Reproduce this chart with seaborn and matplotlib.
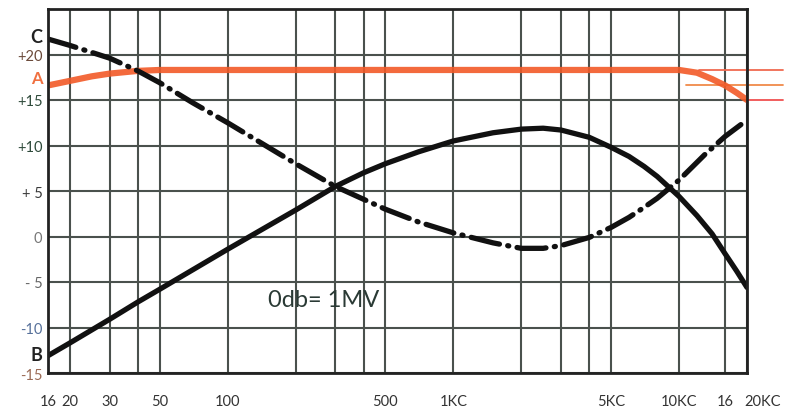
import numpy as np
import pandas as pd
import matplotlib
matplotlib.use("Agg")
import matplotlib.pyplot as plt
import matplotlib.transforms as mtransforms
import seaborn as sns

# ---- data (frequency in Hz, level in dB) ----
freq_a = [16, 20, 25, 30, 40, 50, 100, 500, 1000, 5000, 10000, 12000, 14000, 16000, 18000, 20000]
level_a = [16.6, 17.1, 17.6, 17.9, 18.2, 18.3, 18.3, 18.3, 18.3, 18.3, 18.3, 18.0, 17.3, 16.6, 15.8, 15.0]

freq_b = [16, 20, 30, 40, 50, 100, 200, 300, 400, 500, 700, 1000, 1500, 2000, 2500, 3000, 4000, 5000, 6000, 7000, 8000, 10000, 12000, 14000, 16000, 18000, 20000]
level_b = [-13.1, -11.7, -9.1, -7.2, -5.8, -1.4, 2.9, 5.5, 7.0, 8.0, 9.3, 10.5, 11.4, 11.8, 11.9, 11.7, 10.9, 9.8, 8.8, 7.7, 6.6, 4.4, 2.3, 0.3, -1.9, -3.8, -5.6]

freq_c = [16, 20, 30, 40, 50, 70, 100, 200, 300, 500, 700, 1000, 1500, 2000, 2500, 3000, 4000, 5000, 6000, 7000, 8000, 10000, 13000, 16000, 20000]
level_c = [21.7, 21.0, 19.6, 18.2, 16.9, 14.7, 12.5, 8.0, 5.5, 3.0, 1.6, 0.4, -0.7, -1.3, -1.3, -1.0, -0.1, 1.0, 2.1, 3.2, 4.2, 6.2, 9.0, 11.0, 12.8]

ref_levels = [18.3, 16.6, 15.0]
ref_start = [12200, 10700, 20000]
ref_end = 29000

x_ticks = [16, 20, 30, 50, 100, 500, 1000, 5000, 10000, 16000, 20000]
x_labels = ["16", "20", "30", "50", "100", "500", "1KC", "5KC", "10KC", "16", "20KC"]
x_grid = [16, 20, 30, 40, 50, 100, 200, 300, 400, 500, 1000, 2000, 3000, 4000, 5000, 10000, 16000, 20000]
y_ticks = [-15, -10, -5, 0, 5, 10, 15, 20]
y_labels = ["-15", "-10", "- 5", "0", "+ 5", "+10", "+15", "+20"]
y_label_colors = ["#9a6a55", "#56709a", "#666666", "#777777", "#3a3a3a", "#2e4a3a", "#2e4a3a", "#6b4a3a"]

sns.set_style("white")
plt.rcParams['font.family'] = ['Lato', 'DejaVu Sans']

fig = plt.figure(figsize=(7.86, 4.10), dpi=100)
ax = fig.add_axes([48/786, 1 - 374/410, (747-48)/786, (374-10)/410])
ax.set_xscale("log")
ax.set_xlim(16, 20000)
ax.set_ylim(-15, 25)

# grid
for g in x_grid:
    ax.axvline(g, color="#4a514d", lw=1.5, zorder=1)
for g in range(-15, 26, 5):
    ax.axhline(g, color="#4a514d", lw=1.5, zorder=1)

df_a = pd.DataFrame({"f": freq_a, "db": level_a})
df_b = pd.DataFrame({"f": freq_b, "db": level_b})
df_c = pd.DataFrame({"f": freq_c, "db": level_c})

sns.lineplot(data=df_a, x="f", y="db", ax=ax, color="#f25a28", lw=4.5, alpha=0.9,
             solid_capstyle="round", zorder=3, estimator=None, sort=False)
sns.lineplot(data=df_b, x="f", y="db", ax=ax, color="#111111", lw=3.8,
             solid_capstyle="round", zorder=4, estimator=None, sort=False)
sns.lineplot(data=df_c, x="f", y="db", ax=ax, color="#111111", lw=3.8,
             linestyle=(0, (5.5, 1.6, 0.2, 1.6)), dash_capstyle="round",
             zorder=4, estimator=None, sort=False)

# reference lines extending beyond the right edge
ref_colors = ["#f06a50", "#f08a4a", "#f05050"]
for lvl, st, col in zip(ref_levels, ref_start, ref_colors):
    ax.plot([st, ref_end], [lvl, lvl], color=col, lw=1.3, clip_on=False, zorder=2)

for s in ax.spines.values():
    s.set_color("#222222")
    s.set_linewidth(2.0)
    s.set_zorder(5)

ax.set_xticks(x_ticks)
ax.set_xticklabels(x_labels)
ax.xaxis.set_minor_locator(matplotlib.ticker.NullLocator())
ax.set_yticks(y_ticks)
ax.set_yticklabels(y_labels)
ax.tick_params(axis="x", length=0, pad=15, labelsize=10.5, labelcolor="#333333")
ax.tick_params(axis="y", length=0, pad=4, labelsize=10.5)
for lab, col in zip(ax.get_yticklabels(), y_label_colors):
    lab.set_color(col)
# shift the last label ("20KC") to the right as in the reference
last = ax.get_xticklabels()[-1]
last.set_transform(last.get_transform() + mtransforms.ScaledTranslation(16/100, 0, fig.dpi_scale_trans))
ax.set_xlabel("")
ax.set_ylabel("")

# curve letters
trans = mtransforms.blended_transform_factory(ax.transAxes, ax.transData)
ax.text(-0.008, 22.0, "C", transform=trans, ha="right", va="center",
        fontsize=13, fontweight="bold", color="#222222")
ax.text(-0.008, 17.4, "A", transform=trans, ha="right", va="center",
        fontsize=12, fontweight="bold", color="#f07040")
ax.text(-0.008, -13.0, "B", transform=trans, ha="right", va="center",
        fontsize=13, fontweight="bold", color="#222222")

ax.text(265, -6.9, "0db= 1MV", ha="center", va="center", fontsize=17,
        color="#2a3a35", zorder=6)

fig.savefig("out.png", dpi=100)
